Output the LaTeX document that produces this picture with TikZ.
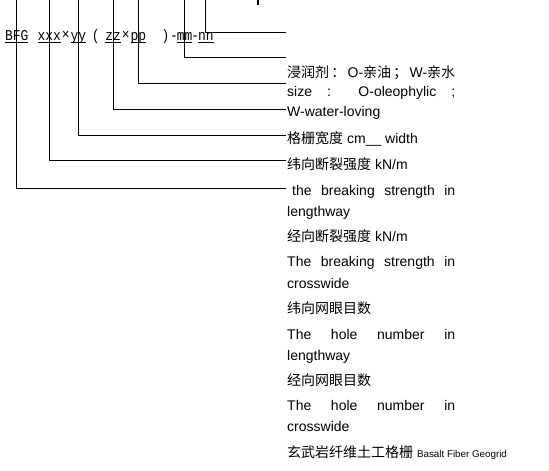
\documentclass[tikz,border=0pt]{standalone}
\usepackage{fontspec}
\setmainfont{Liberation Sans}
\newfontfamily\cjk{Noto Sans CJK SC}
\newfontfamily\codefont[FakeStretch=0.86]{Liberation Mono}
\usetikzlibrary{positioning}

\newlength{\colw}\setlength{\colw}{168pt}
% underline at a fixed depth, descenders may cross it
\newcommand{\ulseg}[1]{\setbox0\hbox{#1}\rlap{\rule[-2.4pt]{\wd0}{0.8pt}}\box0}

\begin{document}
\begin{tikzpicture}[x=1pt, y=-1pt,
   code/.style={anchor=base west, inner sep=0pt, font=\codefont\fontsize{15}{15}\selectfont},
   lbl/.style={anchor=base west, inner sep=0pt, font=\fontsize{14}{14}\selectfont},
   lead/.style={line width=1pt}]
  \useasboundingbox (0,0) rectangle (549,471);

  % the product code
  \node[code] (bfg) at (5,40) {\ulseg{BFG}};
  \node[code] (sp)  at (bfg.base east) {\makebox[8.3pt]{}};
  \node[code] (xxx) at (sp.base east)  {\ulseg{xxx}};
  \node[code] (t1)  at (xxx.base east) {\makebox[9pt]{\raisebox{1pt}{×}}};
  \node[code] (yy)  at (t1.base east)  {\ulseg{yy}};
  \node[code] (lp)  at (yy.base east)  {\makebox[18.5pt]{(}};
  \node[code] (zz)  at (lp.base east)  {\ulseg{zz}};
  \node[code] (t2)  at (zz.base east)  {\makebox[9pt]{\raisebox{1pt}{×}}};
  \node[code] (pp)  at (t2.base east)  {\ulseg{pp}};
  \node[code] (rp)  at (pp.base east)  {\makebox[24.5pt][l]{\hspace{15.1pt})}};
  \node[code] (d1)  at (rp.base east)  {\makebox[5pt]{-}};
  \node[code] (mm)  at (d1.base east)  {\ulseg{mm}};
  \node[code] (d2)  at (mm.base east)  {\makebox[5pt]{-}};
  \node[code] (nn)  at (d2.base east)  {\ulseg{nn}};

  % ends of the leaders
  \coordinate (top) at (0,0);
  \coordinate (e1) at (286,32.3);
  \coordinate (e2) at (286,57.7);
  \coordinate (e3) at (286,83.3);
  \coordinate (e4) at (286,109.3);
  \coordinate (e5) at (286,135);
  \coordinate (e6) at (286,160.7);
  \coordinate (e7) at (286,188.3);
  \foreach \s/\t in {nn/e1, mm/e2, pp/e3, zz/e4, yy/e5, xxx/e6, bfg/e7}
     \draw[lead] (\s |- top) -- (\s |- \t) -- (\t);
  \draw[line width=2pt] (258,0) -- (258,4.5);

  % the explanations
  \node[lbl] (l1)  at (287,77.5)  {\makebox[\colw][s]{{\cjk 浸润剂}\hfil{\cjk ：}\hfil O-{\cjk 亲油}\hfil{\cjk ；}\hfil W-{\cjk 亲水}}};
  \node[lbl] (l2)  at (287,96.7)  {\makebox[\colw][s]{size : O-oleophylic ;}};
  \node[lbl] (l3)  at (287,116.7) {W-water-loving};
  \node[lbl] (l4)  at (287,143)   {{\cjk 格栅宽度} cm\_\_ width};
  \node[lbl] (l5)  at (287,169.5) {{\cjk 纬向断裂强度} kN/m};
  \node[lbl] (l6)  at (287,195.5) {\makebox[\colw][s]{\hspace{5pt}the breaking strength in}};
  \node[lbl] (l7)  at (287,216)   {lengthway};
  \node[lbl] (l8)  at (287,241.2) {{\cjk 经向断裂强度} kN/m};
  \node[lbl] (l9)  at (287,266.7) {\makebox[\colw][s]{The breaking strength in}};
  \node[lbl] (l10) at (287,288)   {crosswide};
  \node[lbl] (l11) at (287,313.5) {{\cjk 纬向网眼目数}};
  \node[lbl] (l12) at (287,339)   {\makebox[\colw][s]{The hole number in}};
  \node[lbl] (l13) at (287,360.7) {lengthway};
  \node[lbl] (l14) at (287,385.2) {{\cjk 经向网眼目数}};
  \node[lbl] (l15) at (287,410.7) {\makebox[\colw][s]{The hole number in}};
  \node[lbl] (l16) at (287,431.7) {crosswide};
  \node[lbl] (l17) at (287,457)   {{\cjk 玄武岩纤维土工格栅} {\fontsize{9.8}{10}\selectfont Basalt Fiber Geogrid}};
\end{tikzpicture}
\end{document}
